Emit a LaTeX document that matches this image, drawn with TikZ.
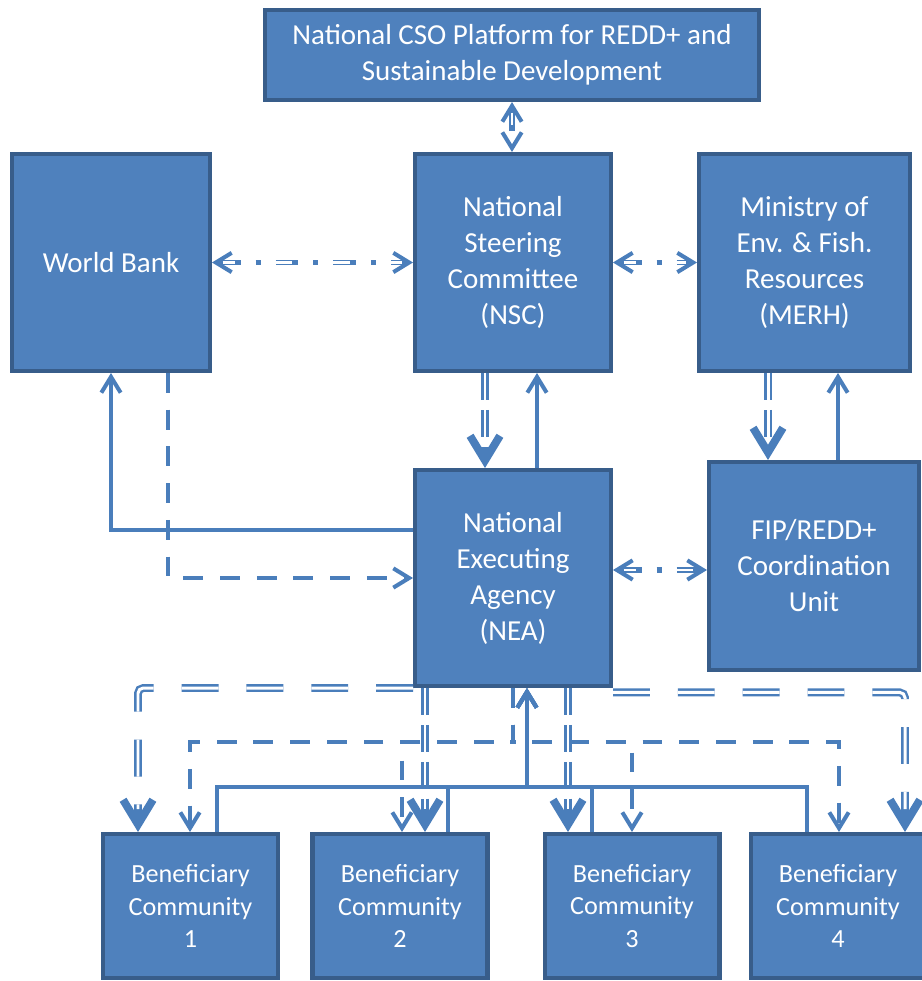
\documentclass[tikz,border=0pt]{standalone}
\usepackage{fontspec}
\setmainfont{Carlito}
\usetikzlibrary{arrows.meta}
\definecolor{boxfill}{HTML}{4F81BD}
\definecolor{boxedge}{HTML}{385D8A}
\definecolor{linkblue}{HTML}{4A7EBB}
\tikzset{>={Straight Barb[length=9pt,width=11pt,line width=2.3pt]},
  box/.style={draw=boxedge, fill=boxfill, line width=2.3pt, text=white,
    align=center, inner sep=0pt, font=\fontsize{16.5}{20.5}\selectfont},
  comm/.style={box, minimum width=3.5cm, minimum height=2.88cm,
    font=\fontsize{14.9}{18.4}\selectfont},
  link/.style={draw=linkblue, line width=2.3pt, ->},
  dlink/.style={link, dash pattern=on 11.3pt off 9.6pt},
  dotdbl/.style={draw=linkblue, line width=3.2pt, <->,
    dash pattern=on 13pt off 8.5pt on 2.8pt off 8.5pt,
    postaction={draw=white, line width=1.2pt, arrows=-,
      shorten >=6pt, shorten <=6pt, dash phase=6pt}},
  bigdbl/.style={draw=linkblue, line width=4.5pt,
    -{Straight Barb[length=14pt,width=17pt,line width=4.5pt]},
    postaction={draw=white, line width=1.7pt, arrows=-, shorten >=13pt}},
  shortdash/.style={dash pattern=on 15.3pt off 5.7pt},
  longdash/.style={dash pattern=on 21pt off 15.9pt}}

\begin{document}
\begin{tikzpicture}[x=0.02cm, y=-0.02cm]
  \useasboundingbox (0,0) rectangle (921,981);

  % boxes
  \node[box, minimum width=9.88cm, minimum height=1.8cm] (cso) at (512,55)
    {National CSO Platform for REDD+ and\\Sustainable Development};
  \node[box, minimum width=3.96cm, minimum height=4.34cm] (wb) at (111,262.5)
    {World Bank};
  \node[box, minimum width=3.92cm, minimum height=4.34cm] (nsc) at (513,262.5)
    {National\\Steering\\Committee\\(NSC)};
  \node[box, minimum width=4.22cm, minimum height=4.34cm] (merh) at (804.5,262.5)
    {Ministry of\\Env. \& Fish.\\Resources\\(MERH)};
  \node[box, minimum width=3.92cm, minimum height=4.32cm] (nea) at (513,578)
    {National\\Executing\\Agency\\(NEA)};
  \node[box, minimum width=4.2cm, minimum height=4.16cm] (fip) at (814,566)
    {FIP/REDD+\\Coordination\\Unit};
  \node[comm] (bc1) at (190.5,906) {Beneficiary\\Community\\1};
  \node[comm] (bc2) at (400,906) {Beneficiary\\Community\\2};
  \node[comm] (bc3) at (632,906) {Beneficiary\\Community\\3};
  \node[comm] (bc4) at (838,906) {Beneficiary\\Community\\4};

  \coordinate (dj) at (nea.south |- 0,742);
  \coordinate (sj) at (527,787);

  % upper links
  \draw[dotdbl] (512,0 |- cso.south) -- (512,0 |- nsc.north);
  \draw[dotdbl] (wb.east) -- (nsc.west);
  \draw[dotdbl] (nsc.east) -- (merh.west);
  \draw[dotdbl] (nea.east |- 0,570) -- (fip.west |- 0,570);
  \draw[bigdbl, shortdash] (485,0 |- nsc.south) -- (485,0 |- nea.north);
  \draw[link] (537,0 |- nea.north) -- (537,0 |- nsc.south);
  \draw[bigdbl, shortdash] (768,0 |- merh.south) -- (768,0 |- fip.north);
  \draw[link] (838,0 |- fip.north) -- (838,0 |- merh.south);
  \draw[link] (nea.west |- 0,530) -| (wb.south);
  \draw[dlink] (168,0 |- wb.south) |- (nea.west);

  % NEA and the communities
  \draw[bigdbl, longdash, rounded corners=3pt] (nea.south west) -| (138,0 |- bc1.north);
  \draw[bigdbl, shortdash] (425,0 |- nea.south) -- (425,0 |- bc2.north);
  \draw[bigdbl, shortdash] (568,0 |- nea.south) -- (568,0 |- bc3.north);
  \draw[bigdbl, longdash, rounded corners=3pt] ([yshift=-2.5pt]nea.south east) -| (905,0 |- bc4.north);
  \foreach \x/\c in {190/bc1, 402/bc2, 632/bc3, 839/bc4}
    \draw[dlink] (nea.south) -- (dj) -| (\x,0 |- \c.north);
  \foreach \x/\c in {217/bc1, 448/bc2, 592/bc3, 807/bc4}
    \draw[link] (\x,0 |- \c.north) |- (sj) -- (sj |- nea.south);
\end{tikzpicture}
\end{document}
